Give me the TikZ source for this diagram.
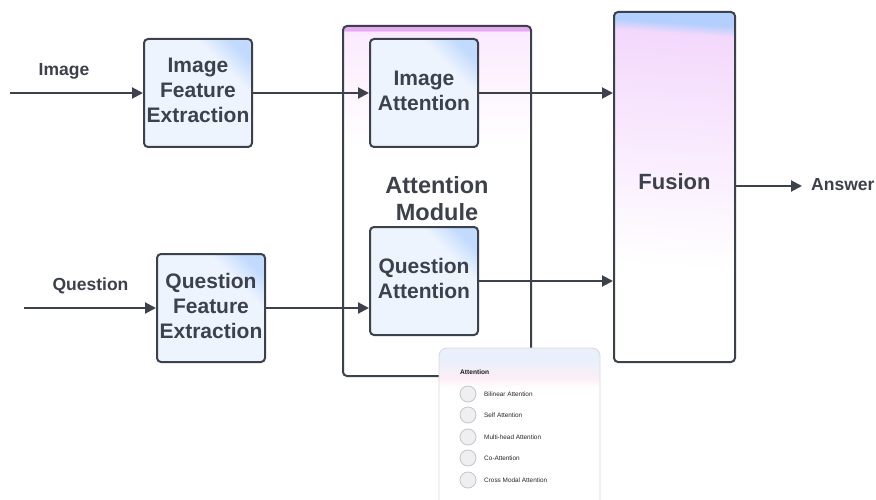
\documentclass[tikz,border=0pt]{standalone}
\usepackage{fontspec}
\setmainfont{Liberation Sans}
\usetikzlibrary{arrows.meta,positioning,calc}

\definecolor{ink}{HTML}{3C414B}
\definecolor{boxlight}{HTML}{EEF4FE}
\definecolor{boxblue}{HTML}{C2DAFD}
\definecolor{conttop}{HTML}{E6A9F5}
\definecolor{contpink}{HTML}{FBEAFE}
\definecolor{fuspink}{HTML}{F3D8FC}
\definecolor{fusblue}{HTML}{B3CFFD}
\definecolor{cardblue}{HTML}{E9F0FB}
\definecolor{cardpink}{HTML}{FDEEF6}
\definecolor{cardline}{HTML}{D9DADD}
\definecolor{radiofill}{HTML}{EFEFF1}
\definecolor{radioline}{HTML}{C4C6CA}

% light blue block with a bluer top-right corner
\pgfdeclarehorizontalshading{cornerblue}{100bp}{color(0bp)=(boxlight); color(67bp)=(boxlight); color(78bp)=(boxblue); color(100bp)=(boxblue)}
% attention module: violet strip on top, pink fading to white
\pgfdeclareverticalshading{contshade}{100bp}{color(0bp)=(white); color(58bp)=(white); color(74.2bp)=(contpink); color(74.35bp)=(conttop); color(100bp)=(conttop)}
% fusion block: blue top, pink fading to white
\pgfdeclareverticalshading{fusshade}{100bp}{color(0bp)=(white); color(38bp)=(white); color(73bp)=(fuspink); color(74.6bp)=(fusblue); color(100bp)=(fusblue)}
% legend card header
\pgfdeclareverticalshading{cardshade}{100bp}{color(0bp)=(white); color(62bp)=(white); color(65bp)=(cardpink); color(71bp)=(cardblue); color(100bp)=(cardblue)}

\tikzset{
  blockbox/.style={draw=ink, line width=2pt, rounded corners=4pt,
    shading=cornerblue, shading angle=45,
    minimum width=108pt, minimum height=108pt, inner sep=0pt},
  blocktext/.style={align=center, text=ink, yshift=2.5pt,
    font=\bfseries\fontsize{21}{25}\selectfont},
  contbox/.style={draw=ink, line width=2pt, rounded corners=4pt,
    shading=contshade, minimum width=188pt, minimum height=350pt},
  conttext/.style={align=center, text=ink, yshift=2.5pt,
    font=\bfseries\fontsize{23.5}{27}\selectfont},
  fusbox/.style={draw=ink, line width=2pt, rounded corners=4pt,
    shading=fusshade, shading angle=-4, minimum width=121pt, minimum height=350pt},
  fustext/.style={text=ink, yshift=5pt, font=\bfseries\fontsize{22}{26}\selectfont},
  flow/.style={draw=ink, line width=2pt, -{Triangle[length=11pt,width=11pt]}},
  inlabel/.style={font=\bfseries\fontsize{17.5}{21}\selectfont, text=ink},
  radio/.style={circle, draw=radioline, fill=radiofill, line width=0.8pt, minimum size=16pt, inner sep=0pt},
  radiotext/.style={anchor=west, font=\fontsize{6.4}{8}\selectfont, text=black!85, inner sep=0pt},
}

\begin{document}
\begin{tikzpicture}[x=1pt,y=-1pt]
\useasboundingbox[fill=white] (0,0) rectangle (876,500);

% attention module container
\node[contbox, label={[conttext]center:Attention\\Module}] (am) at (437,201) {};

% processing blocks
\node[blockbox, label={[blocktext]center:Image\\Feature\\Extraction}] (ife) at (198,93) {};
\node[blockbox, label={[blocktext]center:Question\\Feature\\Extraction}] (qfe) at (211,308) {};
\node[blockbox, label={[blocktext]center:Image\\Attention}] (ia) at (424,93) {};
\node[blockbox, label={[blocktext]center:Question\\Attention}] (qa) at (424,281) {};
\node[fusbox, label={[fustext]center:Fusion}] (fus) at (674.5,187) {};

% inputs and output
\coordinate (imgin) at (10,93);
\coordinate (qin) at (24,308);
\coordinate (ansend) at (802,186);
\node[inlabel] (imglbl) at (64,71) {Image};
\node[inlabel] (qlbl) at (90.5,286) {Question};
\node[inlabel, anchor=west, inner sep=0pt] (anslbl) at (811,185) {Answer};

% connectors
\draw[flow] (imgin) -- (ife.west);
\draw[flow] (qin) -- (qfe.west);
\draw[flow] (ife.east) -- (ia.west);
\draw[flow] (qfe.east) -- (qfe.east -| qa.west);
\draw[flow] (ia.east) -- (ia.east -| fus.west);
\draw[flow] (qa.east) -- (qa.east -| fus.west);
\draw[flow] (fus.east |- ansend) -- (ansend);

% legend card of attention types
\shade[shading=cardshade, rounded corners=8pt] (439,500) -- (439,348) -- (600,348) -- (600,500) -- cycle;
\draw[cardline, line width=0.9pt, rounded corners=8pt] (439,500) -- (439,348) -- (600,348) -- (600,500);
\node[anchor=west, inner sep=0pt, font=\bfseries\fontsize{6.6}{8}\selectfont, text=black!90] (cardtitle) at (460,372) {Attention};
\foreach \y/\t/\n in {394/Bilinear Attention/r1, 415/Self Attention/r2, 437/Multi-head Attention/r3, 458/Co-Attention/r4, 480/Cross Modal Attention/r5}{
  \node[radio] (\n) at (468,\y) {};
  \node[radiotext] (\n t) at (484,\y) {\t};
}
\end{tikzpicture}
\end{document}
